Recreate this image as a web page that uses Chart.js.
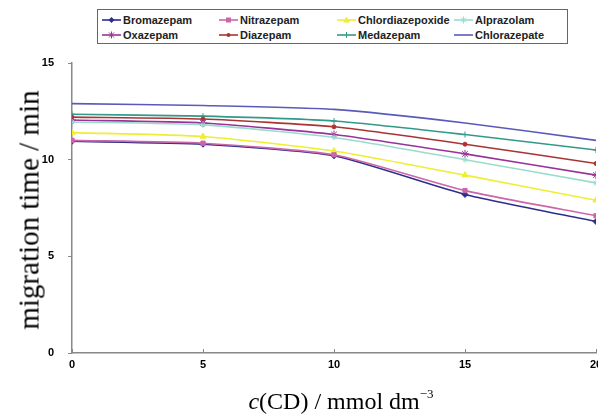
<!DOCTYPE html>
<html>
<head>
<meta charset="utf-8">
<script src="https://cdn.jsdelivr.net/npm/chart.js@4"></script>
<style>
  body { margin: 0; overflow: hidden; background: #fff; width: 598px; height: 416px; position: relative; }
  #wrap { position: absolute; left: 0; top: 0; width: 620px; height: 416px; }
  #legend { position: absolute; left: 97px; top: 9px; width: 469px; height: 33px; border: 1px solid #666; background: #fff; }
  .item { position: absolute; height: 14px; font: bold 11px "Liberation Sans", Arial, sans-serif; color: #222; white-space: nowrap; }
  .item svg { position: absolute; left: 0; top: 0; }
  .item span { position: absolute; left: 21px; top: 0; line-height: 14px; }
  #ytitle { position: absolute; left: 29px; top: 210px; transform: translate(-50%, -50%) rotate(-90deg); font: 29px "Liberation Serif", "Times New Roman", serif; white-space: nowrap; }
  #xtitle { position: absolute; left: 341px; top: 386px; transform: translateX(-50%); font: 24px "Liberation Serif", "Times New Roman", serif; white-space: nowrap; }
  #xtitle sup { font-size: 13px; vertical-align: 11px; }
</style>
</head>
<body>
<div id="wrap"><canvas id="chart" width="620" height="416"></canvas></div>
<div id="legend"></div>
<div id="ytitle">migration time / min</div>
<div id="xtitle"><i>c</i>(CD) / mmol dm<sup>&minus;3</sup></div>
<script>
// data
let conc = [0, 5, 10, 15, 20];
let xTicks = [0, 5, 10, 15, 20];
let yTicks = [0, 5, 10, 15];

let names = ["Bromazepam", "Nitrazepam", "Chlordiazepoxide", "Alprazolam",
             "Oxazepam", "Diazepam", "Medazepam", "Chlorazepate"];

let bromazepam       = [10.95, 10.8, 10.2, 8.2, 6.8];
let nitrazepam       = [11.0, 10.85, 10.25, 8.4, 7.1];
let chlordiazepoxide = [11.4, 11.2, 10.45, 9.2, 7.9];
let alprazolam       = [11.95, 11.8, 11.15, 10.0, 8.8];
let oxazepam         = [12.05, 11.9, 11.3, 10.3, 9.2];
let diazepam         = [12.2, 12.1, 11.7, 10.8, 9.8];
let medazepam        = [12.35, 12.25, 12.0, 11.3, 10.5];
let chlorazepate     = [12.9, 12.8, 12.6, 11.9, 11.0];

let seriesValues = [bromazepam, nitrazepam, chlordiazepoxide, alprazolam,
                    oxazepam, diazepam, medazepam, chlorazepate];

let colors = ['#2e2e8a', '#cc66aa', '#eeee33', '#99dccc', '#993399', '#aa3333', '#339988', '#5a5abb'];
let markers = ['rectRot', 'rect', 'triangle', 'star', 'star', 'circle', 'cross', false];
let markerSize = [3, 3, 3.5, 3, 4, 2, 3, 0];

//datasets
let datasets = names.map((n, i) => ({
    label: n,
    data: conc.map((c, j) => ({ x: c, y: seriesValues[i][j] })),
    borderColor: colors[i],
    backgroundColor: colors[i],
    borderWidth: 1.6,
    pointStyle: markers[i],
    pointRadius: markerSize[i],
    pointBorderWidth: 1,
    tension: 0.2,
    order: i == 0 ? 1 : 0
}));

//legend (html, 4 columns x 2 rows)
let legend = document.getElementById("legend");
let colX = [4, 121, 239, 356];
let rowY = [3, 18];

function markerSvg(i) {
    let c = colors[i];
    let m = markers[i];
    let s = '<line x1="0" y1="7" x2="19" y2="7" stroke="' + c + '" stroke-width="1.6"/>';
    if (m == 'rectRot') s += '<polygon points="9.5,4 12.5,7 9.5,10 6.5,7" fill="' + c + '"/>';
    if (m == 'rect') s += '<rect x="7" y="4.5" width="5" height="5" fill="' + c + '"/>';
    if (m == 'triangle') s += '<polygon points="9.5,3.5 13,9.5 6,9.5" fill="' + c + '"/>';
    if (m == 'star') s += '<path d="M7,4.5L12,9.5M12,4.5L7,9.5M9.5,3.5L9.5,10.5" stroke="' + c + '" stroke-width="1"/>';
    if (m == 'circle') s += '<circle cx="9.5" cy="7" r="2" fill="' + c + '"/>';
    if (m == 'cross') s += '<path d="M9.5,4L9.5,10" stroke="' + c + '" stroke-width="1"/>';
    return '<svg width="20" height="14">' + s + '</svg>';
}

names.forEach((n, i) => {
    let d = document.createElement("div");
    d.className = "item";
    d.style.left = colX[i % 4] + "px";
    d.style.top = rowY[Math.floor(i / 4)] + "px";
    d.innerHTML = markerSvg(i) + '<span>' + n + '</span>';
    legend.appendChild(d);
});

let tickFont = { family: "'Liberation Sans', Arial, sans-serif", weight: 'bold', size: 11 };

//small x tick marks pointing up into the plot, like the original
let xTickMarks = {
    id: 'xTickMarks',
    afterDraw(chart) {
        let x = chart.scales.x;
        let c = chart.ctx;
        c.save();
        c.strokeStyle = '#888';
        c.lineWidth = 1;
        xTicks.forEach(v => {
            let px = Math.round(x.getPixelForValue(v)) + 0.5;
            c.beginPath();
            c.moveTo(px, x.top);
            c.lineTo(px, x.top - 4);
            c.stroke();
        });
        c.restore();
    }
};

//chart
var ctx = document.getElementById('chart').getContext('2d');
var myChart = new Chart(ctx, {
    type: 'line',
    data: { datasets: datasets },
    options: {
        responsive: false,
        animation: false,
        layout: { padding: { top: 63, right: 24, left: 0, bottom: 0 } },
        plugins: { legend: { display: false }, tooltip: { enabled: false } },
        scales: {
            x: {
                type: 'linear',
                min: 0,
                max: 20,
                afterBuildTicks: (s) => { s.ticks = xTicks.map(v => ({ value: v })); },
                ticks: { font: tickFont, color: '#000', padding: 5 },
                grid: { drawOnChartArea: false, drawTicks: false, color: '#888' },
                border: { color: '#888', width: 1.5 },
                afterFit: (s) => { s.height = 63; }
            },
            y: {
                min: 0,
                max: 15,
                afterBuildTicks: (s) => { s.ticks = yTicks.map(v => ({ value: v })); },
                ticks: { font: tickFont, color: '#000', padding: 14 },
                grid: { drawOnChartArea: false, tickLength: 4, color: '#888' },
                border: { color: '#888', width: 1.5 },
                afterFit: (s) => { s.width = 72; }
            }
        }
    },
    plugins: [xTickMarks]
});
</script>
</body>
</html>
